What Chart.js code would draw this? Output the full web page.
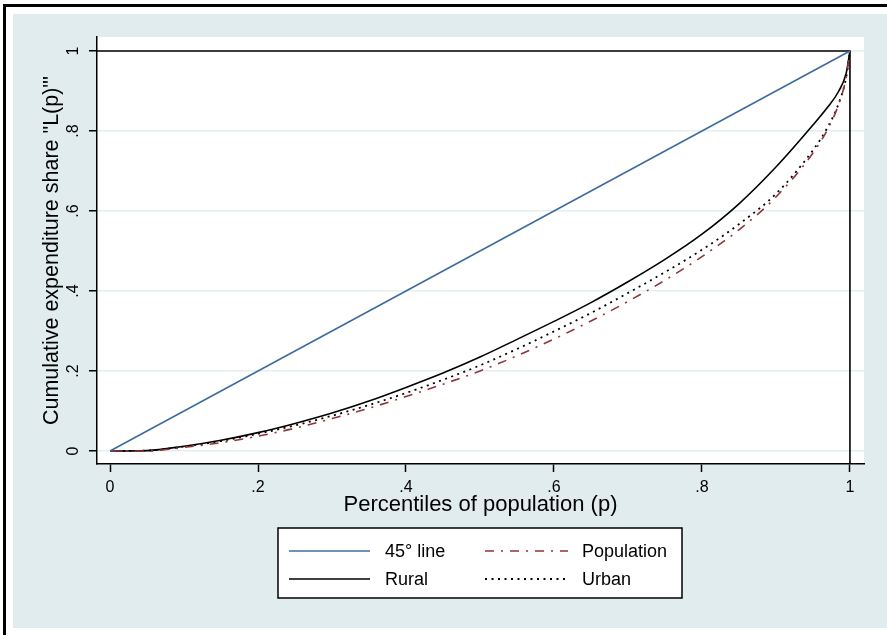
<!DOCTYPE html>
<html>
<head>
<meta charset="utf-8">
<title>Lorenz curves</title>
<script src="https://cdn.jsdelivr.net/npm/chart.js@4.4.1/dist/chart.umd.min.js"></script>
<style>
  html, body { margin: 0; padding: 0; background: #fff; }
  #wrap { position: relative; width: 887px; height: 635px; }
</style>
</head>
<body>
<div id="wrap"><canvas id="lorenzChart" width="887" height="635"></canvas></div>
<script>
// Percentiles of population (p)
const pValues = [0, 0.05, 0.1, 0.15, 0.2, 0.25, 0.3, 0.35, 0.4, 0.45, 0.5, 0.55, 0.6, 0.65, 0.7, 0.75, 0.8, 0.85, 0.9, 0.95, 0.97, 0.985, 0.995, 1];

// Cumulative expenditure share L(p)
const ruralShare      = [0, 0.001, 0.012, 0.027, 0.046, 0.069, 0.095, 0.125, 0.159, 0.195, 0.235, 0.279, 0.324, 0.371, 0.423, 0.479, 0.542, 0.618, 0.710, 0.815, 0.860, 0.900, 0.945, 1];
const urbanShare      = [0, 0.001, 0.011, 0.025, 0.043, 0.064, 0.088, 0.115, 0.145, 0.178, 0.214, 0.255, 0.299, 0.345, 0.395, 0.447, 0.503, 0.567, 0.643, 0.752, 0.810, 0.870, 0.935, 1];
const populationShare = [0, 0.000, 0.009, 0.021, 0.037, 0.057, 0.081, 0.107, 0.136, 0.167, 0.200, 0.238, 0.280, 0.325, 0.374, 0.427, 0.486, 0.553, 0.635, 0.745, 0.805, 0.868, 0.935, 1];

// 45 degree line
const diagonalP = [0, 1];
const diagonalL = [0, 1];

// Axis ticks
const xTicks = [0, 0.2, 0.4, 0.6, 0.8, 1];
const xTickLabels = ['0', '.2', '.4', '.6', '.8', '1'];
const yTicks = [0, 0.2, 0.4, 0.6, 0.8, 1];
const yTickLabels = ['0', '.2', '.4', '.6', '.8', '1'];

// Axis ranges (Stata pads a little around the data)
const X_MIN = -0.0176, X_MAX = 1.019;
const Y_MIN = -0.0325, Y_MAX = 1.035;

const colors = {
    navy: '#3f6c9c',
    maroon: '#90353b',
    black: '#000000',
    grid: '#e4eff2',
    panel: '#e0ecee'
};

const FONT = "Arial, 'Liberation Sans', sans-serif";

function toPoints(xs, ys) {
    return xs.map((x, i) => ({ x: x, y: ys[i] }));
}

// Black frame segments at L=1 and p=1
const frameP = [X_MIN, 1, 1];
const frameL = [1, 1, Y_MIN];

/**
 * Background: outer border, bluish panel, white plot region
 */
const backgroundPlugin = {
    id: 'stataBackground',
    beforeDraw(chart) {
        const ctx = chart.ctx;
        const ca = chart.chartArea;
        ctx.save();
        ctx.fillStyle = '#ffffff';
        ctx.fillRect(0, 0, chart.width, chart.height);
        ctx.fillStyle = '#000000';
        ctx.fillRect(3, 4, chart.width - 3, 3);
        ctx.fillRect(3, 4, 3, chart.height - 4);
        ctx.fillStyle = colors.panel;
        ctx.fillRect(13, 14, chart.width - 13, 614);
        ctx.fillStyle = '#ffffff';
        ctx.fillRect(ca.left - 1, ca.top, ca.right - ca.left + 1, ca.bottom - ca.top);
        ctx.restore();
    }
};

/**
 * Boxed two-column legend like Stata's
 */
const boxLegendPlugin = {
    id: 'boxLegend',
    afterDraw(chart) {
        const ctx = chart.ctx;
        const box = { x: 278, y: 528, w: 404, h: 70 };
        const cols = [{ x0: 289, x1: 370, tx: 385 }, { x0: 485, x1: 568, tx: 582 }];
        const rows = [551, 579];
        ctx.save();
        ctx.fillStyle = '#ffffff';
        ctx.fillRect(box.x, box.y, box.w, box.h);
        ctx.strokeStyle = '#000000';
        ctx.lineWidth = 1.5;
        ctx.strokeRect(box.x, box.y, box.w, box.h);

        const items = chart.data.datasets.filter(ds => !ds.hideInLegend);
        items.forEach((ds, i) => {
            const col = cols[i % 2];
            const y = rows[Math.floor(i / 2)];
            ctx.beginPath();
            ctx.setLineDash(ds.borderDash || []);
            ctx.strokeStyle = ds.borderColor;
            ctx.lineWidth = ds.borderWidth;
            ctx.moveTo(col.x0, y);
            ctx.lineTo(col.x1, y);
            ctx.stroke();
            ctx.setLineDash([]);
            ctx.fillStyle = '#000000';
            ctx.font = '18px ' + FONT;
            ctx.textAlign = 'left';
            ctx.textBaseline = 'middle';
            ctx.fillText(ds.label, col.tx, y + 1);
        });
        ctx.restore();
    }
};

const ctx = document.getElementById('lorenzChart').getContext('2d');

const lorenzChart = new Chart(ctx, {
    type: 'line',
    data: {
        datasets: [
            {
                label: '45° line',
                data: toPoints(diagonalP, diagonalL),
                borderColor: colors.navy,
                borderWidth: 1.6,
                pointRadius: 0
            },
            {
                label: 'Population',
                data: toPoints(pValues, populationShare),
                borderColor: colors.maroon,
                borderWidth: 1.6,
                borderDash: [9, 7, 2, 7],
                pointRadius: 0,
                cubicInterpolationMode: 'monotone'
            },
            {
                label: 'Rural',
                data: toPoints(pValues, ruralShare),
                borderColor: colors.black,
                borderWidth: 1.6,
                pointRadius: 0,
                cubicInterpolationMode: 'monotone'
            },
            {
                label: 'Urban',
                data: toPoints(pValues, urbanShare),
                borderColor: colors.black,
                borderWidth: 1.8,
                borderDash: [2, 4.5],
                pointRadius: 0,
                cubicInterpolationMode: 'monotone'
            },
            {
                label: 'frame',
                hideInLegend: true,
                data: toPoints(frameP, frameL),
                borderColor: colors.black,
                borderWidth: 1.6,
                pointRadius: 0
            }
        ]
    },
    options: {
        responsive: false,
        animation: false,
        devicePixelRatio: 1,
        layout: { padding: { left: 0, top: 37, right: 23, bottom: 0 } },
        plugins: {
            legend: { display: false },
            tooltip: { enabled: false }
        },
        scales: {
            x: {
                type: 'linear',
                min: X_MIN,
                max: X_MAX,
                afterBuildTicks: scale => { scale.ticks = xTicks.map(v => ({ value: v })); },
                afterFit: scale => { scale.height = 171; },
                grid: {
                    drawOnChartArea: false,
                    tickLength: 8,
                    tickColor: colors.black,
                    tickWidth: 1.5
                },
                border: { color: colors.black, width: 1.5 },
                ticks: {
                    autoSkip: false,
                    maxRotation: 0,
                    padding: 6,
                    color: '#000',
                    font: { family: FONT, size: 16 },
                    callback: value => xTickLabels[xTicks.indexOf(value)]
                },
                title: {
                    display: true,
                    text: 'Percentiles of population (p)',
                    color: '#000',
                    font: { family: FONT, size: 22 },
                    padding: { top: 0, bottom: 117 }
                }
            },
            y: {
                type: 'linear',
                min: Y_MIN,
                max: Y_MAX,
                afterBuildTicks: scale => { scale.ticks = yTicks.map(v => ({ value: v })); },
                afterFit: scale => { scale.width = 97; },
                grid: {
                    color: colors.grid,
                    lineWidth: 1.5,
                    tickLength: 8,
                    tickColor: colors.black,
                    tickWidth: 1.5
                },
                border: { color: colors.black, width: 1.5 },
                ticks: {
                    autoSkip: false,
                    minRotation: 90,
                    maxRotation: 90,
                    crossAlign: 'center',
                    padding: 9,
                    color: '#000',
                    font: { family: FONT, size: 16 },
                    callback: value => yTickLabels[yTicks.indexOf(value)]
                },
                title: {
                    display: true,
                    text: 'Cumulative expenditure share "L(p)"\'',
                    color: '#000',
                    font: { family: FONT, size: 21.5 },
                    padding: { top: 39, bottom: 0 }
                }
            }
        }
    },
    plugins: [backgroundPlugin, boxLegendPlugin]
});
</script>
</body>
</html>
